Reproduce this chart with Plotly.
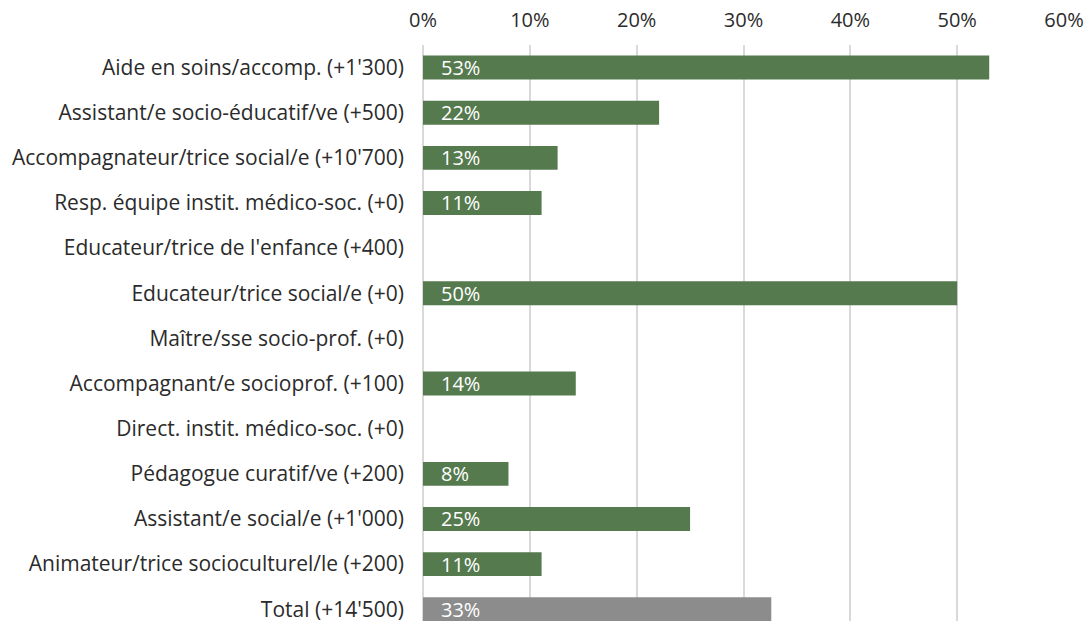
import plotly.graph_objects as go

categories = [
    "Aide en soins/accomp. (+1'300)",
    "Assistant/e socio-éducatif/ve (+500)",
    "Accompagnateur/trice social/e (+10'700)",
    "Resp. équipe instit. médico-soc. (+0)",
    "Educateur/trice de l'enfance (+400)",
    "Educateur/trice social/e (+0)",
    "Maître/sse socio-prof. (+0)",
    "Accompagnant/e socioprof. (+100)",
    "Direct. instit. médico-soc. (+0)",
    "Pédagogue curatif/ve (+200)",
    "Assistant/e social/e (+1'000)",
    "Animateur/trice socioculturel/le (+200)",
    "Total (+14'500)",
]
values = [0.530, 0.221, 0.126, 0.111, None, 0.500, None, 0.143, None, 0.080, 0.250, 0.111, 0.326]
tick_vals = [0, 0.1, 0.2, 0.3, 0.4, 0.5, 0.6]
tick_text = ["0%", "10%", "20%", "30%", "40%", "50%", "60%"]

GREEN = "#557A4E"
GREY = "#8C8C8C"
colors = [GREY if c.startswith("Total") else GREEN for c in categories]

FONT = "Open Sans"
TXT = "#2B2B2B"

fig = go.Figure()
fig.add_trace(go.Bar(
    y=categories, x=[v if v is not None else 0 for v in values],
    orientation="h", marker=dict(color=colors, line=dict(width=0)),
    width=0.53, hoverinfo="skip",
))

annotations = []
for c, v in zip(categories, values):
    if v is None:
        continue
    annotations.append(dict(
        x=0, y=c, xref="x", yref="y", text=f"{round(v*100):.0f}%",
        showarrow=False, xanchor="left", yanchor="middle", xshift=16,
        font=dict(family=FONT, size=20, color="white"),
    ))

fig.update_layout(
    width=1088, height=623,
    margin=dict(l=423, r=24, t=45, b=0),
    paper_bgcolor="white", plot_bgcolor="white",
    showlegend=False,
    annotations=annotations,
    xaxis=dict(
        side="top", range=[0, 0.6], tickvals=tick_vals, ticktext=tick_text,
        showgrid=True, gridcolor="#D9D9D9", gridwidth=2,
        zeroline=True, zerolinecolor="#D9D9D9", zerolinewidth=2,
        showline=False, ticks="", ticklabelstandoff=13,
        tickfont=dict(family=FONT, size=20, color=TXT),
        fixedrange=True,
    ),
    yaxis=dict(
        categoryorder="array", categoryarray=categories,
        range=[12.26, -0.5], showgrid=False, zeroline=False,
        showline=False, ticks="", ticklabelstandoff=18,
        tickfont=dict(family=FONT, size=21, color=TXT),
        fixedrange=True,
    ),
    bargap=0.47,
)

fig.write_html(
    "out.html",
    config={"displayModeBar": False},
    post_script="document.body.style.margin='0';document.body.style.overflow='hidden';",
)
